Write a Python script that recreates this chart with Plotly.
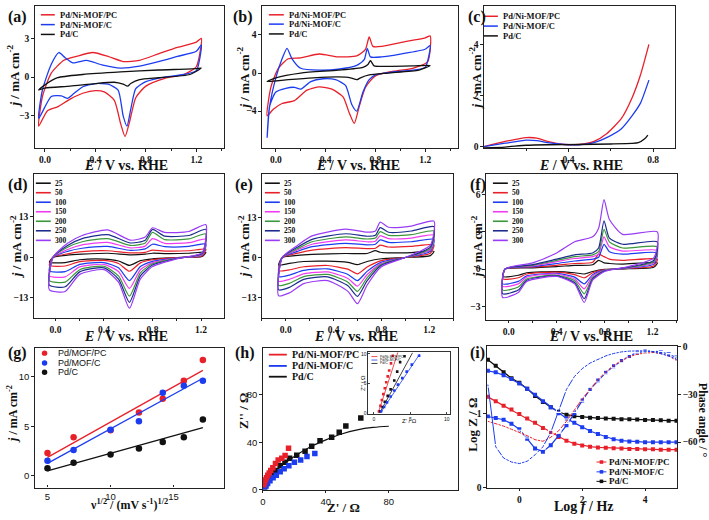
import plotly.graph_objects as go
import numpy as np

W, H = 709, 520

RED = '#e8202a'; BLUE = '#1c3cf0'; BLACK = '#111111'
MAG = '#f03cf0'; GREEN = '#3c963c'; NAVY = '#1c2c8c'; PURPLE = '#9a3cf5'
RATE_COLORS = [BLACK, RED, BLUE, MAG, GREEN, NAVY, PURPLE]
SERIF = 'Liberation Serif'
SANS = 'Liberation Sans'

# ---------------- DATA ----------------
materials = ['Pd/Ni-MOF/PC', 'Pd/Ni-MOF/C', 'Pd/C']
materials_g = ['Pd/MOF/PC', 'Pd/MOF/C', 'Pd/C']
scan_rates = ['25', '50', '100', '150', '200', '250', '300']

# (a) CV in KOH
a_pc_E_fwd = [-0.05, -0.02, 0.05, 0.15, 0.25, 0.38, 0.5, 0.62, 0.75, 0.9, 1.05, 1.2, 1.24]
a_pc_j_fwd = [-3.8, -1.5, 0.3, 1.3, 1.6, 1.9, 1.6, 1.2, 1.3, 1.8, 2.3, 2.7, 3.0]
a_pc_E_bwd = [1.24, 1.2, 1.1, 0.95, 0.8, 0.72, 0.67, 0.635, 0.6, 0.55, 0.47, 0.4, 0.3, 0.2, 0.1, 0.02, -0.05]
a_pc_j_bwd = [3.0, 0.8, 0.2, -0.1, -0.7, -1.6, -3.5, -4.6, -3.6, -1.8, -1.15, -1.05, -1.25, -1.7, -2.3, -2.6, -3.8]
a_c_E_fwd = [-0.05, -0.02, 0.05, 0.11, 0.16, 0.22, 0.33, 0.45, 0.6, 0.75, 0.9, 1.05, 1.2, 1.24]
a_c_j_fwd = [-3.2, -1.0, 1.0, 1.9, 1.5, 1.1, 1.3, 0.95, 0.7, 0.85, 1.2, 1.6, 2.0, 2.5]
a_c_E_bwd = [1.24, 1.2, 1.1, 0.95, 0.8, 0.72, 0.68, 0.65, 0.62, 0.58, 0.5, 0.4, 0.3, 0.22, 0.18, 0.13, 0.05, -0.05]
a_c_j_bwd = [2.5, 0.5, 0.2, 0.0, -0.35, -0.9, -2.5, -3.8, -3.0, -1.0, -0.55, -0.5, -0.75, -1.35, -1.65, -1.45, -1.5, -3.2]
a_pd_E_fwd = [-0.05, 0.0, 0.1, 0.3, 0.6, 0.9, 1.2, 1.24]
a_pd_j_fwd = [-1.0, -0.6, -0.05, 0.2, 0.4, 0.55, 0.65, 0.7]
a_pd_E_bwd = [1.24, 1.15, 0.9, 0.75, 0.68, 0.655, 0.62, 0.55, 0.4, 0.2, 0.0, -0.05]
a_pd_j_bwd = [0.7, 0.2, -0.05, -0.2, -0.5, -0.7, -0.55, -0.4, -0.5, -0.7, -0.85, -1.0]

# (b) CV in KOH + ethanol
b_pc_E_fwd = [-0.07, -0.04, 0.02, 0.1, 0.2, 0.35, 0.5, 0.65, 0.72, 0.75, 0.78, 0.85, 1.0, 1.2, 1.24]
b_pc_j_fwd = [-4.5, -1.5, 0.5, 1.5, 1.6, 2.0, 1.7, 1.8, 2.5, 3.8, 2.8, 2.8, 3.2, 3.7, 3.9]
b_pc_E_bwd = [1.24, 1.22, 1.1, 0.95, 0.8, 0.72, 0.67, 0.63, 0.59, 0.54, 0.45, 0.35, 0.25, 0.15, 0.05, -0.02, -0.07]
b_pc_j_bwd = [3.9, 1.2, 0.5, 0.2, -0.3, -1.5, -3.5, -5.3, -4.2, -2.5, -1.7, -1.45, -1.8, -2.9, -3.2, -3.8, -4.5]
b_c_E_fwd = [-0.07, -0.05, 0.0, 0.05, 0.09, 0.13, 0.2, 0.35, 0.5, 0.65, 0.71, 0.735, 0.76, 0.85, 1.0, 1.2, 1.24]
b_c_j_fwd = [-6.8, -3.5, -0.5, 1.5, 2.6, 1.5, 0.5, 0.3, 0.4, 0.8, 1.4, 2.6, 1.7, 1.7, 2.0, 2.5, 2.9]
b_c_E_bwd = [1.24, 1.2, 1.1, 0.9, 0.8, 0.75, 0.7, 0.65, 0.61, 0.56, 0.48, 0.38, 0.28, 0.2, 0.15, 0.08, 0.0, -0.05, -0.07]
b_c_j_bwd = [2.9, 0.6, 0.3, 0.05, -0.2, -0.7, -2.0, -4.0, -3.3, -1.3, -0.7, -0.6, -0.9, -1.7, -1.5, -1.6, -2.0, -3.5, -6.8]
b_pd_E_fwd = [-0.07, 0.0, 0.2, 0.5, 0.7, 0.74, 0.76, 0.79, 0.9, 1.1, 1.24]
b_pd_j_fwd = [-0.9, -0.5, 0.0, 0.3, 0.6, 0.9, 1.3, 0.75, 0.7, 0.75, 0.8]
b_pd_E_bwd = [1.24, 1.15, 0.9, 0.75, 0.68, 0.65, 0.6, 0.5, 0.3, 0.1, -0.07]
b_pd_j_bwd = [0.8, 0.3, 0.0, -0.2, -0.5, -0.7, -0.5, -0.4, -0.5, -0.7, -0.9]

# (c) LSV
c_pc_E = [0.0, 0.1, 0.2, 0.25, 0.3, 0.38, 0.45, 0.52, 0.58, 0.65, 0.7, 0.74, 0.78]
c_pc_j = [0.0, 0.2, 0.35, 0.33, 0.2, 0.08, 0.08, 0.2, 0.5, 1.1, 1.9, 2.8, 4.0]
c_c_E = [0.0, 0.1, 0.2, 0.25, 0.3, 0.38, 0.45, 0.52, 0.58, 0.65, 0.7, 0.74, 0.78]
c_c_j = [0.0, 0.13, 0.25, 0.23, 0.15, 0.08, 0.07, 0.15, 0.35, 0.7, 1.2, 1.7, 2.6]
c_pd_E = [0.0, 0.1, 0.2, 0.3, 0.45, 0.6, 0.7, 0.73, 0.76, 0.775]
c_pd_j = [-0.05, -0.02, 0.05, 0.07, 0.08, 0.1, 0.12, 0.15, 0.3, 0.45]

# (d) scan rates, Pd/Ni-MOF/PC
d_E_fwd = [-0.05, -0.02, 0.1, 0.22, 0.43, 0.62, 0.74, 0.8, 0.9, 1.1, 1.24]
d_E_bwd = [1.24, 1.21, 1.0, 0.8, 0.7, 0.61, 0.52, 0.4, 0.2, 0.08, -0.05]
d_j_fwd_25 = [-1.6, 0, 0.7, 1.0, 1.3, 0.8, 1.0, 1.3, 1.2, 1.3, 1.6]
d_j_bwd_25 = [1.6, 0.3, -0.1, -0.5, -1.1, -2.6, -1.2, -0.6, -0.8, -1.7, -1.6]
d_j_fwd_50 = [-2.6, 0, 1.1, 1.8, 2.1, 1.4, 1.6, 2.3, 2.0, 2.1, 2.6]
d_j_bwd_50 = [2.6, 0.4, -0.1, -0.8, -1.8, -4.5, -2.0, -1.0, -1.4, -2.8, -2.6]
d_j_fwd_100 = [-4.4, 0, 1.9, 2.9, 3.5, 2.2, 2.7, 4.2, 3.4, 3.5, 4.3]
d_j_bwd_100 = [4.3, 0.7, -0.2, -1.3, -3.0, -7.5, -3.4, -1.7, -2.3, -4.6, -4.4]
d_j_fwd_150 = [-6.0, 0, 2.5, 4.0, 4.8, 3.0, 3.6, 6.0, 4.5, 4.7, 5.8]
d_j_bwd_150 = [5.8, 0.9, -0.3, -1.7, -4.0, -10.0, -4.6, -2.3, -3.1, -6.3, -6.0]
d_j_fwd_200 = [-7.5, 0, 3.2, 5.0, 6.0, 3.8, 4.6, 8.0, 5.7, 5.9, 7.5]
d_j_bwd_200 = [7.5, 1.1, -0.35, -2.1, -5.0, -12.5, -6.0, -2.9, -4.0, -8.0, -7.5]
d_j_fwd_250 = [-9.0, 0, 3.8, 6.0, 7.3, 4.6, 5.5, 9.0, 6.8, 7.0, 9.0]
d_j_bwd_250 = [9.0, 1.3, -0.4, -2.5, -6.0, -14.5, -7.0, -3.4, -4.7, -9.5, -9.0]
d_j_fwd_300 = [-10.5, 0, 4.5, 7.0, 8.8, 5.5, 6.5, 9.5, 8.0, 8.3, 10.5]
d_j_bwd_300 = [10.5, 1.5, -0.5, -3.0, -7.0, -16.4, -8.0, -4.0, -5.5, -11.0, -10.5]

# (e) scan rates, Pd/Ni-MOF/C
e_E_fwd = [-0.06, -0.03, 0.1, 0.22, 0.5, 0.68, 0.75, 0.79, 0.86, 1.05, 1.24]
e_E_bwd = [1.24, 1.21, 1.0, 0.8, 0.68, 0.6, 0.52, 0.35, 0.15, 0.03, -0.06]
e_j_fwd_25 = [-2.5, 0, 0.7, 1.0, 1.3, 1.3, 2.2, 1.7, 1.5, 1.6, 2.0]
e_j_bwd_25 = [2.0, 0.6, 0, -0.4, -1.3, -2.3, -1.6, -1.2, -1.3, -1.9, -2.5]
e_j_fwd_50 = [-4.3, 0, 1.4, 2.4, 3.2, 2.9, 3.0, 4.0, 3.4, 3.6, 4.1]
e_j_bwd_50 = [4.1, 1.4, 0, -1.0, -3.1, -5.3, -3.8, -2.6, -3.0, -4.0, -4.3]
e_j_fwd_100 = [-6.2, 0, 2.0, 3.5, 4.6, 4.1, 4.3, 5.7, 4.9, 5.1, 5.9]
e_j_bwd_100 = [5.9, 2.0, 0, -1.5, -4.5, -7.5, -5.5, -3.7, -4.2, -5.7, -6.2]
e_j_fwd_150 = [-7.7, 0, 2.5, 4.3, 5.7, 5.1, 5.3, 7.1, 6.1, 6.3, 7.3]
e_j_bwd_150 = [7.3, 2.5, 0, -1.9, -5.6, -9.3, -6.8, -4.7, -5.3, -7.1, -7.7]
e_j_fwd_200 = [-9.1, 0, 2.9, 5.1, 6.7, 6.0, 6.3, 8.4, 7.2, 7.4, 8.6]
e_j_bwd_200 = [8.6, 2.9, 0, -2.2, -6.6, -11.0, -8.0, -5.5, -6.2, -8.4, -9.1]
e_j_fwd_250 = [-10.5, 0, 3.4, 5.9, 7.7, 6.9, 7.2, 9.7, 8.2, 8.6, 10.0]
e_j_bwd_250 = [10.0, 3.4, 0, -2.5, -7.6, -12.6, -9.2, -6.3, -7.1, -9.7, -10.5]
e_j_fwd_300 = [-12.4, 0, 4.0, 7.0, 9.2, 8.2, 8.6, 11.5, 9.8, 10.2, 11.8]
e_j_bwd_300 = [11.8, 4.0, 0, -3.0, -9.0, -15.0, -11.0, -7.5, -8.5, -11.5, -12.4]

# (f) scan rates, Pd/C
f_E_fwd = [-0.05, -0.03, 0.2, 0.4, 0.55, 0.7, 0.75, 0.795, 0.84, 0.95, 1.24]
f_E_bwd = [1.24, 1.21, 1.0, 0.8, 0.7, 0.63, 0.55, 0.4, 0.15, 0.08, -0.05]
f_j_fwd_25 = [-0.6, 0, 0.1, 0.2, 0.3, 0.35, 0.7, 0.5, 0.45, 0.4, 0.5]
f_j_bwd_25 = [0.5, 0.15, 0.03, -0.03, -0.2, -0.4, -0.3, -0.2, -0.3, -0.5, -0.6]
f_j_fwd_50 = [-0.8, 0, 0.15, 0.3, 0.45, 0.55, 1.2, 1.0, 0.8, 0.7, 0.8]
f_j_bwd_50 = [0.8, 0.25, 0.05, -0.05, -0.3, -0.7, -0.45, -0.25, -0.4, -0.7, -0.8]
f_j_fwd_100 = [-1.2, 0, 0.2, 0.45, 0.65, 0.8, 0.95, 2.0, 1.4, 1.2, 1.3]
f_j_bwd_100 = [1.3, 0.4, 0.08, -0.08, -0.45, -1.2, -0.65, -0.35, -0.55, -1.0, -1.2]
f_j_fwd_150 = [-1.4, 0, 0.25, 0.6, 0.85, 1.0, 1.2, 2.6, 1.8, 1.45, 1.5]
f_j_bwd_150 = [1.5, 0.5, 0.1, -0.1, -0.55, -1.6, -0.8, -0.4, -0.65, -1.2, -1.4]
f_j_fwd_200 = [-1.7, 0, 0.3, 0.7, 1.0, 1.15, 1.4, 3.2, 2.2, 1.7, 1.8]
f_j_bwd_200 = [1.8, 0.6, 0.12, -0.12, -0.7, -2.0, -0.95, -0.5, -0.8, -1.45, -1.7]
f_j_fwd_250 = [-2.0, 0, 0.35, 0.8, 1.15, 1.3, 1.7, 3.9, 2.5, 2.0, 2.2]
f_j_bwd_250 = [2.2, 0.7, 0.15, -0.15, -0.8, -2.4, -1.1, -0.55, -0.9, -1.7, -2.0]
f_j_fwd_300 = [-2.3, 0, 0.5, 1.3, 2.2, 2.6, 3.3, 5.6, 4.0, 2.8, 3.0]
f_j_bwd_300 = [3.0, 0.9, 0.2, -0.2, -0.9, -2.7, -1.2, -0.6, -1.0, -1.9, -2.3]

# (g) peak current vs sqrt(scan rate)
g_sqrt_v = [5.0, 7.07, 10.0, 12.25, 14.14, 15.81, 17.32]
g_j_pc = [2.3, 3.9, 4.6, 6.4, 7.8, 9.6, 11.7]
g_j_c = [1.5, 2.6, 4.65, 5.5, 8.4, 9.1, 9.6]
g_j_pd = [0.75, 1.3, 2.15, 2.75, 3.4, 3.9, 5.7]

# (h) Nyquist
h_pc_re = [0.5, 1.0, 1.6, 2.3, 3.1, 4.0, 5.0, 6.3, 8.0, 9.7, 12.0, 14.1, 16.3]
h_pc_im = [4.0, 6.0, 8.0, 10.0, 12.0, 14.0, 16.0, 18.3, 22.0, 25.0, 26.5, 28.8, 35.0]
h_c_re = [1.2, 2.0, 3.0, 4.5, 6.5, 8.5, 11.0, 13.5, 16.5, 20.0, 24.0, 28.0, 33.0]
h_c_im = [1.2, 3.0, 5.0, 7.5, 10.0, 12.0, 15.0, 17.5, 20.0, 23.0, 25.0, 28.0, 30.5]
h_pd_re = [1.0, 1.5, 2.5, 4.0, 6.0, 8.0, 11.0, 14.0, 17.0, 21.5, 26.8, 31.0, 36.3, 43.7, 48.5, 52.7, 62.2]
h_pd_im = [2.0, 4.0, 7.0, 10.0, 13.0, 16.0, 20.0, 23.0, 26.5, 29.0, 32.4, 36.5, 41.2, 44.3, 48.4, 53.7, 60.6]
h_fit_re = [0, 5, 10, 20, 30, 40, 50, 60, 70, 80]
h_fit_im = [2.0, 11.0, 18.0, 28.0, 36.0, 42.0, 47.0, 50.5, 52.5, 53.5]
# inset (high-frequency zoom)
hi_pc_re = [0.7, 0.9, 1.1, 1.3, 1.5, 1.7, 1.9, 2.1, 2.35, 2.6]
hi_pc_im = [0.3, 1.2, 2.2, 3.2, 4.2, 5.2, 6.2, 7.2, 8.4, 9.7]
hi_pc_fit_re = [0.6, 3.3]
hi_pc_fit_im = [0.0, 10.3]
hi_pd_re = [0.9, 1.2, 1.5, 1.9, 2.3, 2.8, 3.2, 3.6, 4.2]
hi_pd_im = [0.3, 1.0, 1.9, 2.9, 4.0, 5.5, 7.0, 8.6, 9.6]
hi_pd_fit_re = [0.8, 5.3]
hi_pd_fit_im = [0.0, 10.2]
hi_c_re = [1.0, 1.4, 1.8, 2.3, 2.8, 3.3, 3.9, 4.5, 5.2, 6.2]
hi_c_im = [0.3, 1.0, 1.8, 2.8, 3.8, 4.8, 5.9, 7.0, 8.2, 9.7]
hi_c_fit_re = [0.9, 6.3]
hi_c_fit_im = [0.0, 10.0]

# (i) Bode
i_logf = [-1, -0.75, -0.5, -0.25, 0, 0.25, 0.5, 0.75, 1.0, 1.25, 1.5, 1.75, 2.0, 2.25,
          2.5, 2.75, 3.0, 3.25, 3.5, 3.75, 4.0, 4.25, 4.5, 4.75, 5.0]
i_logZ_pd = [1.72, 1.64, 1.55, 1.47, 1.41, 1.33, 1.23, 1.15, 1.08, 1.02, 0.98, 0.96, 0.95, 0.94,
             0.935, 0.93, 0.925, 0.92, 0.92, 0.915, 0.91, 0.91, 0.905, 0.90, 0.90]
i_logZ_c = [1.57, 1.55, 1.51, 1.46, 1.40, 1.33, 1.25, 1.16, 1.08, 1.0, 0.93, 0.87, 0.81, 0.76,
            0.72, 0.68, 0.65, 0.63, 0.62, 0.615, 0.61, 0.61, 0.61, 0.61, 0.61]
i_logZ_pc = [1.22, 1.16, 1.10, 1.05, 0.99, 0.93, 0.87, 0.80, 0.74, 0.68, 0.63, 0.59, 0.565, 0.55,
             0.54, 0.535, 0.53, 0.525, 0.52, 0.52, 0.515, 0.515, 0.51, 0.51, 0.51]
i_phase_pc = [-47, -48.5, -50, -52, -54, -56, -58.5, -59.5, -57, -53, -47, -40, -33, -27,
              -21, -16, -12, -9, -6.5, -5, -4.2, -4, -4.5, -6, -9]
i_phase_c_open = [-24, -63, -70, -72.5, -73.5, -72, -68, -63, -54, -40, -27, -19, -14, -10.5,
                  -8, -6, -4.5, -3.5, -3, -2.7, -2.8, -3.3, -4.5, -6, -8]
i_phase_c_fill = [-44, -45, -46, -48.5, -52, -58, -64, -66, -62, -56, -49.5, -42, -34, -27,
                  -21.5, -16.5, -12.5, -9, -6, -4, -3.2, -3, -3.5, -5, -7]

# ---------------- FIGURE ----------------
fig = go.Figure()

def P(x):
    return x / W

def Q(y):
    return 1 - y / H

boxes = {1: (32, 222, 1, 146), 2: (260, 457, 1, 146), 3: (483, 675, 1, 146),
         4: (31, 222, 172, 319), 5: (260, 452, 172, 319), 6: (485, 677, 172, 321),
         7: (32, 222, 350, 492), 8: (261, 457, 350, 494), 9: (486, 677, 348, 492)}

TF = dict(family=SERIF, size=9.5, color='#111', weight='bold')
TFS = dict(family=SANS, size=9.5, color='#111')

def refs(k):
    s = '' if k == 1 else str(k)
    return 'x' + s, 'y' + s

def set_axes(k, xr, yr, xt, yt, xfmt=None, tf=TF, xminor=None, mirror_y=True, xticks='outside'):
    l, r, t, b = boxes[k]
    xs, ys = refs(k)
    common = dict(showline=True, linecolor='#222', linewidth=1.2, ticklen=2.5,
                  tickwidth=1, tickcolor='#222', showgrid=False, zeroline=False, tickfont=tf)
    xa = dict(domain=[P(l), P(r)], range=xr, tickvals=xt, anchor=ys, mirror=True, ticks=xticks, **common)
    if xfmt:
        xa['tickformat'] = xfmt
    if xminor:
        xa['minor'] = dict(tickvals=xminor, ticks='outside', ticklen=2, tickcolor='#222')
    ya = dict(domain=[Q(b), Q(t)], range=yr, tickvals=yt, anchor=xs, ticks='outside',
              mirror=True if mirror_y else False, **common)
    fig.update_layout(**{'xaxis' + xs[1:]: xa, 'yaxis' + ys[1:]: ya})

def cv(k, ef, jf, eb, jb, color, width=1.3):
    xs, ys = refs(k)
    fig.add_trace(go.Scatter(x=list(ef) + list(eb[1:]), y=list(jf) + list(jb[1:]), mode='lines',
                             line=dict(color=color, width=width, shape='spline', smoothing=0.6),
                             xaxis=xs, yaxis=ys, showlegend=False, hoverinfo='skip'))

def line(k, x, y, color, width=1.3, shape='spline'):
    xs, ys = refs(k)
    fig.add_trace(go.Scatter(x=x, y=y, mode='lines',
                             line=dict(color=color, width=width, shape=shape, smoothing=0.6),
                             xaxis=xs, yaxis=ys, showlegend=False, hoverinfo='skip'))

# (a)
cv(1, a_pc_E_fwd, a_pc_j_fwd, a_pc_E_bwd, a_pc_j_bwd, RED)
cv(1, a_c_E_fwd, a_c_j_fwd, a_c_E_bwd, a_c_j_bwd, BLUE)
cv(1, a_pd_E_fwd, a_pd_j_fwd, a_pd_E_bwd, a_pd_j_bwd, BLACK)
# (b)
cv(2, b_pc_E_fwd, b_pc_j_fwd, b_pc_E_bwd, b_pc_j_bwd, RED)
cv(2, b_c_E_fwd, b_c_j_fwd, b_c_E_bwd, b_c_j_bwd, BLUE)
cv(2, b_pd_E_fwd, b_pd_j_fwd, b_pd_E_bwd, b_pd_j_bwd, BLACK)
# (c)
line(3, c_pc_E, c_pc_j, RED)
line(3, c_c_E, c_c_j, BLUE)
line(3, c_pd_E, c_pd_j, BLACK)

# (d)(e)(f)
g = globals()
for k, pre in [(4, 'd'), (5, 'e'), (6, 'f')]:
    for rate, col in zip(scan_rates, RATE_COLORS):
        cv(k, g[pre + '_E_fwd'], g[pre + '_j_fwd_' + rate], g[pre + '_E_bwd'],
           g[pre + '_j_bwd_' + rate], col, width=1.2)

# (g)
for yv, col in [(g_j_pc, RED), (g_j_c, BLUE), (g_j_pd, BLACK)]:
    fit = np.polyfit(g_sqrt_v, yv, 1)
    xs_fit = [g_sqrt_v[0], g_sqrt_v[-1]]
    fig.add_trace(go.Scatter(x=xs_fit, y=list(np.polyval(fit, xs_fit)), mode='lines',
                             line=dict(color=col, width=1.3), xaxis='x7', yaxis='y7',
                             showlegend=False, hoverinfo='skip'))
    fig.add_trace(go.Scatter(x=g_sqrt_v, y=yv, mode='markers',
                             marker=dict(color=col, size=6.5, symbol='circle',
                                         line=dict(width=0)),
                             xaxis='x7', yaxis='y7', showlegend=False, hoverinfo='skip'))

# (h)
fig.add_trace(go.Scatter(x=h_fit_re, y=h_fit_im, mode='lines', line=dict(color=BLACK, width=1.2, shape='spline'),
                         xaxis='x8', yaxis='y8', showlegend=False, hoverinfo='skip'))
for xr_, yr_, col in [(h_pd_re, h_pd_im, BLACK), (h_c_re, h_c_im, BLUE), (h_pc_re, h_pc_im, RED)]:
    fig.add_trace(go.Scatter(x=xr_, y=yr_, mode='markers',
                             marker=dict(color=col, size=5.5, symbol='square', line=dict(width=0)),
                             xaxis='x8', yaxis='y8', showlegend=False, hoverinfo='skip'))
# inset
for fx, fy, px_, py_, col in [(hi_pc_fit_re, hi_pc_fit_im, hi_pc_re, hi_pc_im, RED),
                              (hi_pd_fit_re, hi_pd_fit_im, hi_pd_re, hi_pd_im, BLACK),
                              (hi_c_fit_re, hi_c_fit_im, hi_c_re, hi_c_im, BLUE)]:
    fig.add_trace(go.Scatter(x=fx, y=fy, mode='lines', line=dict(color=col, width=0.8),
                             xaxis='x11', yaxis='y11', showlegend=False, hoverinfo='skip'))
    fig.add_trace(go.Scatter(x=px_, y=py_, mode='markers',
                             marker=dict(color=col, size=2.6, symbol='square', line=dict(width=0)),
                             xaxis='x11', yaxis='y11', showlegend=False, hoverinfo='skip'))

# (i)
for yv, col in [(i_logZ_pd, BLACK), (i_logZ_c, BLUE), (i_logZ_pc, RED)]:
    fig.add_trace(go.Scatter(x=i_logf, y=yv, mode='lines+markers',
                             line=dict(color=col, width=1.2), marker=dict(color=col, size=4, symbol='square'),
                             xaxis='x9', yaxis='y9', showlegend=False, hoverinfo='skip'))
fig.add_trace(go.Scatter(x=i_logf, y=i_phase_c_fill, mode='lines+markers',
                         line=dict(color=BLUE, width=1.2), marker=dict(color=BLUE, size=4, symbol='square'),
                         xaxis='x9', yaxis='y10', showlegend=False, hoverinfo='skip'))
for yv, col in [(i_phase_pc, RED), (i_phase_c_open, BLUE)]:
    fig.add_trace(go.Scatter(x=i_logf, y=yv, mode='lines+markers',
                             line=dict(color=col, width=1),
                             marker=dict(color='white', size=4.5, symbol='square-open',
                                         line=dict(color=col, width=1.1)),
                             xaxis='x9', yaxis='y10', showlegend=False, hoverinfo='skip'))

# ---------------- AXES ----------------
xt_cv = [0.0, 0.4, 0.8, 1.2]
xm_cv = [-0.2, 0.2, 0.6, 1.0, 1.4]
set_axes(1, [-0.08, 1.42], [-5.5, 5.5], xt_cv, [-3, 0, 3], '.1f', xminor=xm_cv)
set_axes(2, [-0.112, 1.464], [-7.9, 7.05], xt_cv, [-4, 0, 4], '.1f', xminor=xm_cv)
set_axes(3, [0.0, 0.904], [-0.065, 5.5], [0.4, 0.8], [0, 2, 4], '.1f', xminor=[0.2, 0.6])
set_axes(4, [-0.178, 1.39], [-19.5, 26.9], xt_cv, [-13, 0, 13], '.1f', xminor=xm_cv)
set_axes(5, [-0.2, 1.40], [-19.6, 27.2], xt_cv, [-13, 0, 13], '.1f', xminor=xm_cv)
set_axes(6, [-0.19, 1.405], [-4.1, 7.7], xt_cv, [-3, 0, 3, 6], '.1f', xminor=xm_cv)
set_axes(7, [4, 19], [-1.2, 12.9], [5, 10, 15], [0, 5, 10], tf=TFS, xticks='inside')
set_axes(8, [0, 124], [0, 119.5], [0, 40, 80], [0, 40, 80], tf=TFS)
set_axes(9, [-1.03, 5.02], [0, 1.9], [0, 2, 4], [0, 1], mirror_y=False)
l9, r9, t9, b9 = boxes[9]
fig.update_layout(yaxis10=dict(domain=[Q(b9), Q(t9)], range=[-88.5, 0], tickvals=[-60, -30, 0],
                               overlaying='y9', side='right', anchor='x9', showline=True,
                               linecolor='#222', linewidth=1.2, ticks='outside', ticklen=2.5,
                               tickcolor='#222', showgrid=False, zeroline=False, tickfont=TF))
# inset axes
fig.update_layout(
    xaxis11=dict(domain=[P(367), P(449)], range=[-0.74, 10.45], tickvals=[0, 5, 10], anchor='y11',
                 showline=True, mirror=True, linecolor='#333', linewidth=0.8, ticks='inside', ticklen=2,
                 showgrid=False, zeroline=False, tickfont=dict(family=SANS, size=5, color='#111')),
    yaxis11=dict(domain=[Q(417), Q(354)], range=[-0.17, 10.3], tickvals=[0, 5, 10], anchor='x11',
                 showline=True, mirror=True, linecolor='#333', linewidth=0.8, ticks='inside', ticklen=2,
                 showgrid=False, zeroline=False, tickfont=dict(family=SANS, size=5, color='#111')),
)

# ---------------- ANNOTATIONS / LEGENDS ----------------
ann = []
shapes = []

def text(x, y, s, size=13, angle=0, family=SERIF, xanchor='center', yanchor='middle', color='#111'):
    ann.append(dict(x=P(x), y=Q(y), xref='paper', yref='paper', text=s, showarrow=False,
                    font=dict(family=family, size=size, color=color), textangle=angle,
                    xanchor=xanchor, yanchor=yanchor))

# panel labels
for lab, x, y in [('(a)', 3, 12), ('(b)', 229, 12), ('(c)', 465, 12),
                  ('(d)', 3, 184), ('(e)', 231, 184), ('(f)', 467, 184),
                  ('(g)', 3, 355), ('(h)', 231, 355), ('(i)', 467, 355)]:
    text(x, y, '<b>' + lab + '</b>', size=16, xanchor='left')

E_LAB = '<b><i>E</i> / V vs. RHE</b>'
J_LAB = '<b><i>j</i> / mA cm<sup>-2</sup></b>'
for x, y in [(124, 164), (357, 164), (580, 164), (124, 338), (355, 338), (590, 338)]:
    text(x, y, E_LAB, size=14)
for x, y in [(10, 72), (241, 74), (474, 74), (13, 246), (242, 246), (476, 246)]:
    text(x, y, J_LAB, size=13, angle=-90)
text(127, 519, '<b>ν<sup>1/2</sup> / (mV s<sup>-1</sup>)<sup>1/2</sup></b>', size=12, yanchor='bottom')
text(10, 417, J_LAB, size=12, angle=-90)
text(342, 512, "<b>Z' / Ω</b>", size=13)
text(241, 414, "<b>Z'' / Ω</b>", size=13, angle=-90)
text(583, 511, '<b>Log <i>f</i> / Hz</b>', size=14)
text(472, 428, '<b>Log Z / Ω</b>', size=13, angle=-90)
text(703, 423, '<b>Phase angle / °</b>', size=12, angle=90)
# inset titles
text(408, 424, "Z' / Ω", size=6, family=SANS)
text(361, 385, "Z'' / Ω", size=6, family=SANS, angle=-90)

def leg_line(x0, x1, y, color, width=1.5):
    shapes.append(dict(type='line', xref='paper', yref='paper', x0=P(x0), x1=P(x1), y0=Q(y), y1=Q(y),
                       line=dict(color=color, width=width)))

mat_colors = [RED, BLUE, BLACK]
for (lx0, lx1, tx, ys) in [(38, 52, 55, [10, 20, 30]), (267, 282, 285, [10, 19.5, 29.5]),
                           (483, 497, 500, [11.5, 21.5, 31.5])]:
    for name, col, yy in zip(materials, mat_colors, ys):
        leg_line(lx0, lx1, yy, col)
        text(tx, yy, '<b>' + name + '</b>', size=8.5, xanchor='left')

rate_y = [181.7, 191.4, 201.1, 210.8, 220.5, 230.2, 240]
for (lx0, lx1, tx) in [(33, 48, 50), (263, 278, 280), (492, 507, 509)]:
    for rate, col, yy in zip(scan_rates, RATE_COLORS, rate_y):
        leg_line(lx0, lx1, yy, col, 1.6)
        text(tx, yy, '<b>' + rate + '</b>', size=7.5, xanchor='left')

# (g) legend
for name, col, yy in zip(materials_g, mat_colors, [355, 365, 374.5]):
    shapes.append(dict(type='circle', xref='paper', yref='paper', x0=P(39), x1=P(44.5), y0=Q(yy - 2.75),
                       y1=Q(yy + 2.75), fillcolor=col, line=dict(width=0)))
    text(53, yy, name, size=9, family=SANS, xanchor='left')

# (h) legend
for name, col, yy in zip(materials, mat_colors, [356.5, 368, 379]):
    leg_line(267, 285, yy, col, 1.8)
    text(288, yy, '<b>' + name + '</b>', size=10, xanchor='left')
# inset legend
for name, col, yy in zip(materials, mat_colors, [358.5, 362, 365.5]):
    leg_line(370, 376, yy, col, 0.8)
    text(377, yy, name, size=3.5, family=SANS, xanchor='left')

# (i) legend
for name, col, yy in zip(materials, mat_colors, [466, 476, 485.7]):
    leg_line(596, 606, yy, col, 1)
    shapes.append(dict(type='rect', xref='paper', yref='paper', x0=P(599.2), x1=P(602.8), y0=Q(yy - 1.8),
                       y1=Q(yy + 1.8), fillcolor=col, line=dict(width=0)))
    text(607, yy, '<b>' + name + '</b>', size=9, xanchor='left')

fig.update_layout(width=W, height=H, margin=dict(l=0, r=0, t=0, b=0), paper_bgcolor='white',
                  plot_bgcolor='white', showlegend=False, annotations=ann, shapes=shapes)

fig.write_html('out.html', config={'displayModeBar': False},
               post_script="document.body.style.margin='0px';document.body.style.padding='0px';")
